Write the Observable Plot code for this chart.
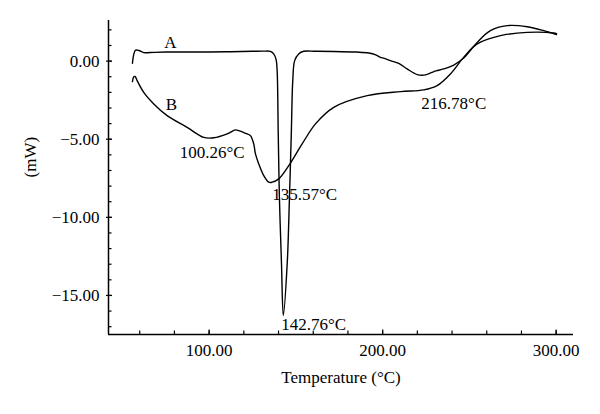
<!DOCTYPE html>
<html>
<head>
<meta charset="utf-8">
<script src="https://cdn.jsdelivr.net/npm/d3@7"></script>
<script src="https://cdn.jsdelivr.net/npm/@observablehq/plot@0.6"></script>
<style>
  html, body { margin: 0; padding: 0; background: #fff; }
</style>
</head>
<body>
<div id="chart"></div>
<script>
// Curve A
const tempA = [55.8, 56.6, 57.6, 59.5, 62.3, 66, 75, 90, 110, 125, 131.5, 135.3, 137.3, 138.6, 139.2, 139.8, 140.5, 141.7, 142.76, 145.0, 146.3, 147.4, 148.2, 149.3, 151.6, 154.5, 161.3, 172, 185, 192, 196, 198.7, 201, 204.5, 209.3, 214.1, 219.9, 224.7, 229.5, 231, 235.2, 241, 246.7, 254.5, 262.1, 271.8, 283.3, 292.9, 300.2];
const heatA = [-0.14, 0.45, 0.70, 0.68, 0.54, 0.55, 0.58, 0.58, 0.60, 0.63, 0.64, 0.62, 0.45, 0.10, -0.61, -4.45, -8.71, -12.96, -16.28, -12.96, -8.71, -4.45, -1.25, 0.03, 0.46, 0.63, 0.63, 0.62, 0.58, 0.52, 0.40, 0.24, 0.18, 0.03, -0.15, -0.5, -0.86, -0.88, -0.67, -0.62, -0.5, -0.25, 0.20, 1.2, 1.95, 2.27, 2.2, 1.95, 1.70];
// Curve B
const tempB = [55.8, 56.5, 57.3, 58.5, 62.3, 68.1, 75.8, 87.3, 96.9, 102.7, 110.4, 115.2, 117.1, 121, 123.8, 125.7, 126.7, 128.6, 131.5, 134.4, 136.3, 140.1, 145.9, 153.6, 161.3, 171.8, 191.1, 210.3, 223.7, 231.4, 239.1, 246.7, 254.5, 267.9, 283.3, 298.6, 300.2];
const heatB = [-1.31, -1.02, -0.98, -1.25, -2.0, -2.74, -3.49, -4.24, -4.88, -4.91, -4.66, -4.40, -4.45, -4.62, -4.77, -5.3, -5.94, -6.58, -7.33, -7.75, -7.75, -7.54, -6.69, -5.3, -4.02, -2.96, -2.21, -1.95, -1.84, -1.57, -0.82, 0.24, 1.10, 1.63, 1.84, 1.80, 1.76];

// Axes
const xDomain = [42, 310];
const yDomain = [-17.5, 2.6];
const xMajorTicks = [100, 200, 300];
const xMinorTicks = [60, 80, 100, 120, 140, 160, 180, 200, 220, 240, 260, 280, 300];
const yMajorTicks = [0, -5, -10, -15];
const yMinorTicks = [2, 1, 0, -1, -2, -3, -4, -5, -6, -7, -8, -9, -10, -11, -12, -13, -14, -15, -16, -17];

// Annotations (data coordinates)
const annLabels = ["A", "B", "100.26°C", "135.57°C", "142.76°C", "216.78°C"];
const annX = [77.7, 78.3, 101.7, 155.1, 160.3, 241];
const annY = [1.2, -2.78, -5.85, -8.54, -16.86, -2.72];

const rowsA = tempA.map((t, i) => ({t, h: heatA[i]}));
const rowsB = tempB.map((t, i) => ({t, h: heatB[i]}));
const ann = annLabels.map((label, i) => ({label, x: annX[i], y: annY[i]}));

const fmt = d => d.toFixed(2).replace("-", "\u2212");

const chart = Plot.plot({
  width: 600,
  height: 414,
  marginLeft: 108,
  marginRight: 27,
  marginTop: 20,
  marginBottom: 80,
  style: {fontFamily: "'Liberation Serif', 'DejaVu Serif', serif", fontSize: "17px", color: "black", background: "white"},
  x: {domain: xDomain},
  y: {domain: yDomain},
  marks: [
    Plot.ruleX([xDomain[0]], {stroke: "black", strokeWidth: 1.5}),
    Plot.ruleY([yDomain[0]], {stroke: "black", strokeWidth: 1.5}),
    Plot.axisY({ticks: yMinorTicks, tickSize: 3.5, dx: 3.5, tickFormat: () => "", label: null, strokeWidth: 1.2}),
    Plot.axisY({ticks: yMajorTicks, tickSize: 6, dx: 4, tickFormat: () => "", label: null, strokeWidth: 1.2}),
    Plot.axisY({ticks: yMajorTicks, tickSize: 0, tickPadding: 9, tickFormat: fmt, label: null, fontSize: 17}),
    Plot.axisX({ticks: xMinorTicks, tickSize: 3.5, dy: -3.5, tickFormat: () => "", label: null, strokeWidth: 1.2}),
    Plot.axisX({ticks: xMajorTicks, tickSize: 5, dy: -4.5, tickFormat: () => "", label: null, strokeWidth: 1.2}),
    Plot.axisX({ticks: xMajorTicks, tickSize: 0, tickPadding: 9, tickFormat: fmt, label: null, fontSize: 17}),
    Plot.text(["Temperature (°C)"], {frameAnchor: "bottom", dy: 48, fontSize: 17}),
    Plot.text(["(mW)"], {frameAnchor: "left", rotate: -90, dx: -78, fontSize: 17}),
    Plot.line(rowsA, {x: "t", y: "h", curve: "catmull-rom", stroke: "black", strokeWidth: 1.4}),
    Plot.line(rowsB, {x: "t", y: "h", curve: "catmull-rom", stroke: "black", strokeWidth: 1.4}),
    Plot.text(ann, {x: "x", y: "y", text: "label", fontSize: 17})
  ]
});
document.getElementById("chart").appendChild(chart);
</script>
</body>
</html>
